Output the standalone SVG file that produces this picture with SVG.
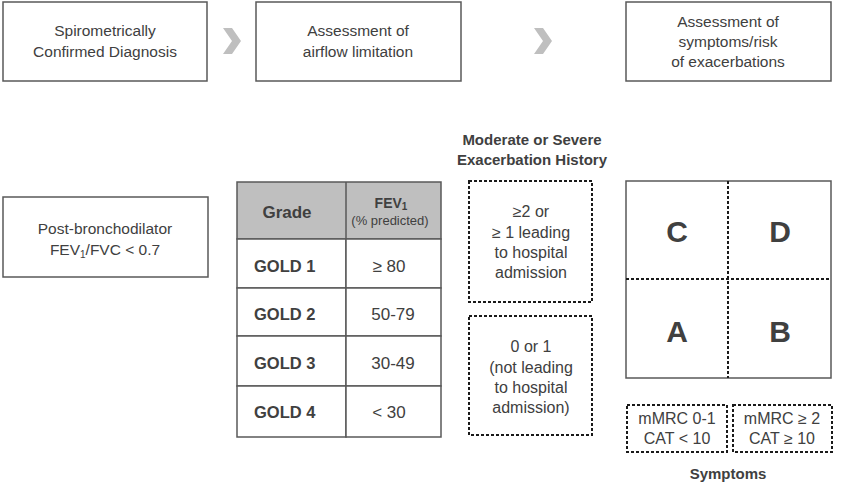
<svg xmlns="http://www.w3.org/2000/svg" width="844" height="498" viewBox="0 0 844 498">
<style>
text{font-family:"Liberation Sans",Arial,sans-serif;fill:#404040;text-anchor:middle}
.box{fill:#fff;stroke:#595959;stroke-width:1.5}
.dash{fill:none;stroke:#1a1a1a;stroke-width:2;stroke-dasharray:3 2}
.t{font-size:15.5px}
.d{font-size:16px}
.b{font-weight:bold}
.chev{fill:#bfbfbf}
.cell{fill:#fff;stroke:#595959;stroke-width:1.5}
</style>
<rect width="844" height="498" fill="#fff"/>

<g id="step1">
<rect class="box" x="3" y="2" width="204" height="79"/>
<text class="t" x="105" y="36">Spirometrically</text>
<text class="t" x="105" y="57">Confirmed Diagnosis</text>
</g>
<g id="step2">
<rect class="box" x="256" y="2" width="205" height="79"/>
<text class="t" x="358" y="36">Assessment of</text>
<text class="t" x="358" y="57">airflow limitation</text>
</g>
<g id="step3">
<rect class="box" x="626" y="2" width="205" height="79"/>
<text class="t" x="728" y="27">Assessment of</text>
<text class="t" x="728" y="47">symptoms/risk</text>
<text class="t" x="728" y="67">of exacerbations</text>
</g>

<g id="connectors">
<polygon class="chev" points="223,28 232,28 241,41 232,54 223,54 232,41"/>
<polygon class="chev" points="534,28 543,28 552,41 543,54 534,54 543,41"/>
</g>

<g id="postbd">
<rect class="box" x="3" y="197" width="205" height="80"/>
<text class="t" x="105" y="234">Post-bronchodilator</text>
<text class="t" x="105" y="255">FEV<tspan font-size="10" dy="3">1</tspan><tspan dy="-3">/FVC &lt; 0.7</tspan></text>
</g>

<g id="table">
<rect x="237" y="182" width="204" height="57" fill="#bfbfbf" stroke="#595959" stroke-width="1.5"/>
<rect class="cell" x="237" y="239" width="109" height="49"/>
<rect class="cell" x="346" y="239" width="95" height="49"/>
<rect class="cell" x="237" y="288" width="109" height="48"/>
<rect class="cell" x="346" y="288" width="95" height="48"/>
<rect class="cell" x="237" y="336" width="109" height="50"/>
<rect class="cell" x="346" y="336" width="95" height="50"/>
<rect class="cell" x="237" y="386" width="109" height="51"/>
<rect class="cell" x="346" y="386" width="95" height="51"/>
<line x1="346" y1="182" x2="346" y2="239" stroke="#595959" stroke-width="1.5"/>
<text class="b" x="287" y="218" font-size="17">Grade</text>
<text class="b" x="391" y="208" font-size="14">FEV<tspan font-size="10" dy="2">1</tspan></text>
<text x="390" y="225" font-size="13">(% predicted)</text>
<g class="b" font-size="16.5">
<text x="254" y="272" style="text-anchor:start">GOLD 1</text>
<text x="254" y="320" style="text-anchor:start">GOLD 2</text>
<text x="254" y="369" style="text-anchor:start">GOLD 3</text>
<text x="254" y="418" style="text-anchor:start">GOLD 4</text>
</g>
<g font-size="17">
<text x="389" y="272">≥ 80</text>
<text x="393" y="320">50-79</text>
<text x="393" y="369">30-49</text>
<text x="389" y="418">&lt; 30</text>
</g>
</g>

<g id="exac-title">
<text class="b" x="532" y="145" font-size="15">Moderate or Severe</text>
<text class="b" x="532" y="165" font-size="15">Exacerbation History</text>
</g>
<g id="exac-high">
<rect class="dash" x="469" y="181" width="123" height="121"/>
<text class="d" x="531" y="217">≥2 or</text>
<text class="d" x="531" y="238">≥ 1 leading</text>
<text class="d" x="531" y="258">to hospital</text>
<text class="d" x="531" y="278">admission</text>
</g>
<g id="exac-low">
<rect class="dash" x="469" y="316" width="123" height="119"/>
<text class="d" x="531" y="352">0 or 1</text>
<text class="d" x="531" y="373">(not leading</text>
<text class="d" x="531" y="393">to hospital</text>
<text class="d" x="531" y="413">admission)</text>
</g>

<g id="grid">
<rect class="box" x="626" y="181" width="205" height="197"/>
<line class="dash" x1="728" y1="181" x2="728" y2="378"/>
<line class="dash" x1="626" y1="279" x2="831" y2="279"/>
<g class="b" font-size="30">
<text x="677" y="242">C</text>
<text x="780" y="242">D</text>
<text x="677" y="342">A</text>
<text x="780" y="342">B</text>
</g>
</g>

<g id="sym-low">
<rect class="dash" x="627" y="405" width="100" height="47"/>
<text class="d" x="677" y="424">mMRC 0-1</text>
<text class="d" x="677" y="444">CAT &lt; 10</text>
</g>
<g id="sym-high">
<rect class="dash" x="733" y="405" width="99" height="47"/>
<text class="d" x="782" y="424">mMRC ≥ 2</text>
<text class="d" x="782" y="444">CAT ≥ 10</text>
</g>
<g id="sym-title">
<text class="b" x="728" y="479" font-size="15">Symptoms</text>
</g>
</svg>
